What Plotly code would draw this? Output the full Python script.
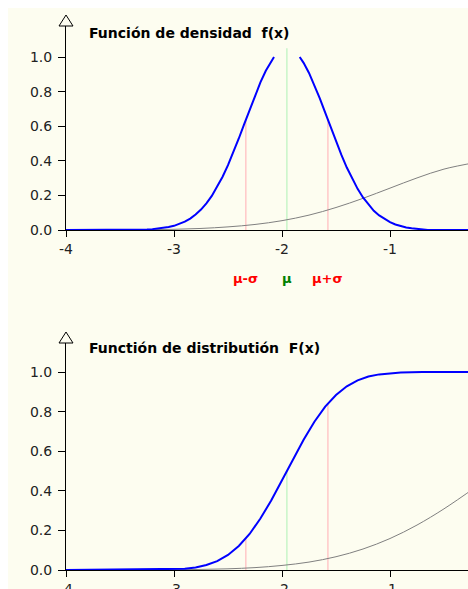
import plotly.graph_objs as go

# Figure size; the page puts it 8 px in from the top-left corner
W, H = 468, 589
OFF = 8

# Normal curve N(mu, sigma) (density, clipped at 1.0)
dens_x = [-4.0, -3.30, -3.25, -3.20, -3.15, -3.10, -3.05, -3.00, -2.95, -2.90,
          -2.85, -2.80, -2.75, -2.70, -2.65, -2.60, -2.55, -2.50, -2.45, -2.40,
          -2.35, -2.30, -2.25, -2.20, -2.15, -2.10, -2.074, -1.955, -1.836, -1.80,
          -1.75, -1.70, -1.65, -1.60, -1.55, -1.50, -1.45, -1.40, -1.35, -1.30,
          -1.25, -1.20, -1.15, -1.10, -1.05, -1.00, -0.95, -0.90, -0.85, -0.80,
          -0.75, -0.70, -0.65, -0.20]
dens_y = [0.0, 0.0, 0.003, 0.005, 0.008, 0.011, 0.017, 0.024, 0.034, 0.048,
          0.066, 0.089, 0.118, 0.154, 0.197, 0.249, 0.308, 0.375, 0.449, 0.529,
          0.612, 0.695, 0.777, 0.853, 0.920, 0.976, 1.0, None, 1.0, 0.966,
          0.908, 0.838, 0.761, 0.679, 0.595, 0.513, 0.434, 0.361, 0.296, 0.238,
          0.188, 0.146, 0.111, 0.084, 0.062, 0.045, 0.032, 0.022, 0.015, 0.010,
          0.007, 0.004, 0.0, 0.0]

# Distribution function of the same curve
cdf_x = [-4.0, -3.0, -2.9, -2.8, -2.7, -2.6, -2.5, -2.4, -2.3, -2.2, -2.1, -2.0,
         -1.9, -1.8, -1.7, -1.6, -1.5, -1.4, -1.3, -1.2, -1.1, -1.0, -0.9, -0.8,
         -0.7, -0.20]
cdf_y = [0.0, 0.003, 0.006, 0.013, 0.025, 0.045, 0.076, 0.121, 0.182, 0.260,
         0.351, 0.453, 0.558, 0.658, 0.749, 0.825, 0.884, 0.928, 0.958, 0.977,
         0.988, 0.994, 0.997, 0.999, 1.0, 1.0]

# Grey reference curve (standard normal)
ref_x = [-4.0, -3.75, -3.5, -3.25, -3.0, -2.75, -2.5, -2.25, -2.0, -1.75, -1.5,
         -1.25, -1.0, -0.75, -0.5, -0.2]
ref_pdf = [0.000, 0.000, 0.001, 0.002, 0.004, 0.009, 0.018, 0.032, 0.054, 0.086,
           0.130, 0.183, 0.242, 0.301, 0.352, 0.391]
ref_cdf = [0.000, 0.000, 0.000, 0.001, 0.001, 0.003, 0.006, 0.012, 0.023, 0.040,
           0.067, 0.106, 0.159, 0.227, 0.309, 0.421]

# Markers at mu - sigma, mu, mu + sigma
mark_x = [-2.335, -1.955, -1.575]
mark_labels = ['μ-σ', 'μ', 'μ+σ']
mark_pdf_top = [0.637, 1.05, 0.637]
mark_cdf_top = [0.159, 0.50, 0.841]

x_ticks = [-4, -3, -2, -1]
x_ticktext = ['-4', '-3', '-2', '-1']
y_ticks = [0.0, 0.2, 0.4, 0.6, 0.8, 1.0]

CREAM = '#FDFDF0'
BLUE = '#0000FF'
GREY = '#808080'
PINK = '#FFC8C8'
LGREEN = '#C8F5C8'
FONT = 'DejaVu Sans'


def py(p):
    # page pixel row -> paper fraction
    return 1 - (p - OFF) / H


def px(p):
    # page pixel column -> paper fraction
    return (p - OFF) / W


def add_panel(fig, xa, ya, x, y, ref_y, tops):
    # vertical guide lines up to the curve
    for mx, top, col in zip(mark_x, tops, [PINK, LGREEN, PINK]):
        fig.add_trace(go.Scatter(x=[mx, mx], y=[0, top], mode='lines',
                                 line=dict(color=col, width=1.5),
                                 xaxis=xa, yaxis=ya, hoverinfo='skip'))
    fig.add_trace(go.Scatter(x=ref_x, y=ref_y, mode='lines',
                             line=dict(color=GREY, width=1, shape='spline'),
                             xaxis=xa, yaxis=ya))
    fig.add_trace(go.Scatter(x=x, y=y, mode='lines',
                             line=dict(color=BLUE, width=2),
                             xaxis=xa, yaxis=ya))


def arrow_head(col, base_row):
    # hollow triangle sitting on top of a y axis line
    xl, xr, yb, yt = px(col - 7), px(col + 7), py(base_row), py(base_row - 11)
    return dict(type='path', xref='paper', yref='paper',
                path=f'M{xl},{yb} L{px(col)},{yt} L{xr},{yb} Z',
                fillcolor=CREAM, line=dict(color='black', width=1))


fig = go.Figure()

# panel geometry in page pixels: (zero row, top row of axis line)
top_y0, top_y1 = 230, 26
bot_y0, bot_y1 = 570, 343
top_ymax = (top_y0 - top_y1) / 173
bot_ymax = (bot_y0 - bot_y1) / 198

add_panel(fig, 'x', 'y', dens_x, dens_y, ref_pdf, mark_pdf_top)
add_panel(fig, 'x2', 'y2', cdf_x, cdf_y, ref_cdf, mark_cdf_top)

# x axis: -4 at page column 66, 108 px per unit, runs to the figure edge
x_left = 66
x_right = -4 + (OFF + W - x_left) / 108

xax = dict(range=[-4, x_right], tickvals=x_ticks, ticktext=x_ticktext,
           ticks='outside', ticklen=6, tickcolor='black', showline=True,
           linecolor='black', linewidth=1, showgrid=False, zeroline=False,
           layer='below traces', automargin=False,
           tickfont=dict(family=FONT, size=14, color='#222'),
           domain=[px(x_left), 1])
yax = dict(tickvals=y_ticks, tickformat='.1f', ticks='outside', ticklen=7,
           tickcolor='black', showline=True, linecolor='black', linewidth=1,
           showgrid=False, zeroline=False, layer='below traces', automargin=False,
           ticklabelstandoff=3,
           tickfont=dict(family=FONT, size=14, color='#222'))

annotations = [
    dict(text='<b>Función de densidad\u00a0 f(x)</b>', x=px(87), y=py(33),
         xref='paper', yref='paper', xanchor='left', yanchor='middle', showarrow=False,
         font=dict(family=FONT, size=14, color='black')),
    dict(text='<b>Functión de distributión\u00a0 F(x)</b>', x=px(87), y=py(348),
         xref='paper', yref='paper', xanchor='left', yanchor='middle', showarrow=False,
         font=dict(family=FONT, size=14, color='black')),
]
for mx, lab, col in zip(mark_x, mark_labels, ['#FF0000', '#008000', '#FF0000']):
    annotations.append(dict(text='<b>' + lab + '</b>', x=mx, y=py(278), xref='x',
                            yref='paper', xanchor='center', yanchor='middle',
                            showarrow=False,
                            font=dict(family=FONT, size=13, color=col)))

fig.update_layout(
    width=W, height=H,
    margin=dict(l=0, r=0, t=0, b=0),
    paper_bgcolor=CREAM,
    plot_bgcolor=CREAM,
    showlegend=False,
    xaxis=dict(xax, anchor='y'),
    yaxis=dict(yax, anchor='x', range=[0, top_ymax], domain=[py(top_y0), py(top_y1)]),
    xaxis2=dict(xax, anchor='y2'),
    yaxis2=dict(yax, anchor='x2', range=[0, bot_ymax], domain=[py(bot_y0), py(bot_y1)]),
    annotations=annotations,
    shapes=[arrow_head(x_left, top_y1), arrow_head(x_left, bot_y1)],
)

# the figure runs past the window on purpose: drop the right margin and scrollbars
fig.write_html("out.html",
               config={'responsive': False},
               post_script="document.body.style.margin='8px 0 0 8px';"
                           "document.documentElement.style.overflow='hidden';"
                           "document.body.style.overflow='hidden';")
